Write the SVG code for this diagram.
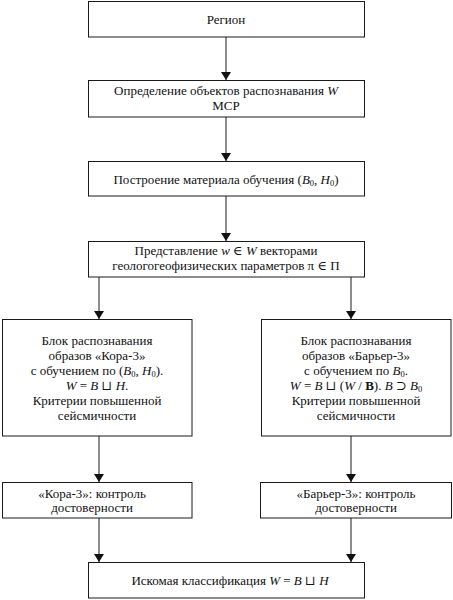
<svg xmlns="http://www.w3.org/2000/svg" width="453" height="600" viewBox="0 0 453 600">
<defs>
<style>
.box{fill:#fff;stroke:#1a1a1a;stroke-width:1}
.t{font-family:"Liberation Serif","Times New Roman","DejaVu Serif",serif;font-size:13px;fill:#111;text-anchor:middle}
.i{font-style:italic}
.b{font-weight:bold}
.s{font-size:8.5px}
.c{stroke:#1a1a1a;stroke-width:1;fill:none}
</style>
<marker id="ah" viewBox="0 0 8 10" refX="8" refY="5" markerWidth="8" markerHeight="10" markerUnits="userSpaceOnUse" orient="auto">
<path d="M0,0 L8,5 L0,10 Z" fill="#111"/>
</marker>
</defs>
<rect width="453" height="600" fill="#fff"/>
<g id="connectors">
<line class="c" x1="226" y1="37" x2="226" y2="80" marker-end="url(#ah)"/>
<line class="c" x1="226" y1="117" x2="226" y2="161" marker-end="url(#ah)"/>
<line class="c" x1="226" y1="196" x2="226" y2="241" marker-end="url(#ah)"/>
<line class="c" x1="99" y1="277" x2="99" y2="319" marker-end="url(#ah)"/>
<line class="c" x1="351" y1="277" x2="351" y2="319" marker-end="url(#ah)"/>
<line class="c" x1="99" y1="436" x2="99" y2="482" marker-end="url(#ah)"/>
<line class="c" x1="351" y1="436" x2="351" y2="482" marker-end="url(#ah)"/>
<line class="c" x1="99" y1="518" x2="99" y2="562" marker-end="url(#ah)"/>
<line class="c" x1="351" y1="518" x2="351" y2="562" marker-end="url(#ah)"/>
</g>
<g id="region">
<rect class="box" x="88.5" y="1.5" width="276" height="35.5"/>
<text class="t" x="226" y="24">Регион</text>
</g>
<g id="objects">
<rect class="box" x="88.5" y="80.5" width="276" height="36.5"/>
<text class="t" x="226" y="95">Определение объектов распознавания <tspan class="i">W</tspan></text>
<text class="t" x="226" y="110">МСР</text>
</g>
<g id="training">
<rect class="box" x="88.5" y="161.5" width="276" height="34.5"/>
<text class="t" x="226" y="184">Построение материала обучения (<tspan class="i">B</tspan><tspan class="s" dy="2">0</tspan><tspan dy="-2">, </tspan><tspan class="i">H</tspan><tspan class="s" dy="2">0</tspan><tspan dy="-2">)</tspan></text>
</g>
<g id="vectors">
<rect class="box" x="88.5" y="241.5" width="276" height="35.5"/>
<text class="t" x="226" y="255">Представление <tspan class="i">w</tspan> ∈ <tspan class="i">W</tspan> векторами</text>
<text class="t" x="226" y="270">геологогеофизических параметров π ∈ Π</text>
</g>
<g id="kora">
<rect class="box" x="2.5" y="319.5" width="189.5" height="116.5"/>
<text class="t" x="97" y="344.5">Блок распознавания</text>
<text class="t" x="97" y="359.5">образов «Кора-3»</text>
<text class="t" x="97" y="374.5">с обучением по (<tspan class="i">B</tspan><tspan class="s" dy="2">0</tspan><tspan dy="-2">, </tspan><tspan class="i">H</tspan><tspan class="s" dy="2">0</tspan><tspan dy="-2">).</tspan></text>
<text class="t" x="97" y="389.5"><tspan class="i">W</tspan> = <tspan class="i">B</tspan> ⊔ <tspan class="i">H</tspan>.</text>
<text class="t" x="97" y="404.5">Критерии повышенной</text>
<text class="t" x="97" y="419.5">сейсмичности</text>
</g>
<g id="barrier">
<rect class="box" x="261.5" y="319.5" width="189.5" height="116.5"/>
<text class="t" x="356" y="344.5">Блок распознавания</text>
<text class="t" x="356" y="359.5">образов «Барьер-3»</text>
<text class="t" x="356" y="374.5">с обучением по <tspan class="i">B</tspan><tspan class="s" dy="2">0</tspan><tspan dy="-2">.</tspan></text>
<text class="t" x="356" y="389.5"><tspan class="i">W</tspan> = <tspan class="i">B</tspan> ⊔ (<tspan class="i">W</tspan> / <tspan class="b">B</tspan>). <tspan class="i">B</tspan> ⊃ <tspan class="i">B</tspan><tspan class="s" dy="2">0</tspan></text>
<text class="t" x="356" y="404.5">Критерии повышенной</text>
<text class="t" x="356" y="419.5">сейсмичности</text>
</g>
<g id="kora-control">
<rect class="box" x="2.5" y="482.5" width="189.5" height="35.5"/>
<text class="t" x="92" y="497.5">«Кора-3»: контроль</text>
<text class="t" x="92" y="511.5">достоверности</text>
</g>
<g id="barrier-control">
<rect class="box" x="260.5" y="482.5" width="191" height="35.5"/>
<text class="t" x="356" y="497.5">«Барьер-3»: контроль</text>
<text class="t" x="356" y="511.5">достоверности</text>
</g>
<g id="result">
<rect class="box" x="88.5" y="562.5" width="276" height="35.5"/>
<text class="t" x="230" y="584.5">Искомая классификация <tspan class="i">W</tspan> = <tspan class="i">B</tspan> ⊔ <tspan class="i">H</tspan></text>
</g>
</svg>
